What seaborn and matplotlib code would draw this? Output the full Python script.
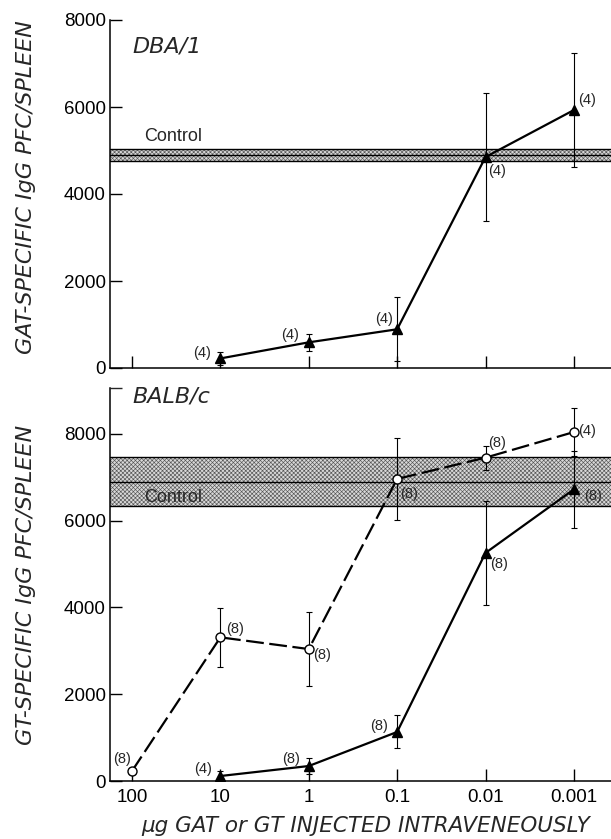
import pandas as pd
import seaborn as sns
import matplotlib.pyplot as plt

# x axis: antigen dose (ug), shown largest to smallest
doses = [100, 10, 1, 0.1, 0.01, 0.001]
dose_labels = ['100', '10', '1', '0.1', '0.01', '0.001']

# DBA/1 mice, GAT injected (filled triangles)
dba_dose = [10, 1, 0.1, 0.01, 0.001]
dba_pfc = [220, 590, 890, 4850, 5930]
dba_err = [140, 190, 740, 1480, 1300]
dba_n = ['(4)', '(4)', '(4)', '(4)', '(4)']
dba_control = 4900
dba_control_se = 135

# BALB/c mice, GAT injected (filled triangles)
balb_gat_dose = [10, 1, 0.1, 0.01, 0.001]
balb_gat_pfc = [115, 345, 1130, 5255, 6720]
balb_gat_err = [110, 190, 380, 1200, 880]
balb_gat_n = ['(4)', '(8)', '(8)', '(8)', '(8)']

# BALB/c mice, GT injected (open circles)
balb_gt_dose = [100, 10, 1, 0.1, 0.01, 0.001]
balb_gt_pfc = [230, 3310, 3040, 6960, 7450, 8040]
balb_gt_err = [80, 680, 850, 950, 280, 550]
balb_gt_n = ['(8)', '(8)', '(8)', '(8)', '(8)', '(4)']
balb_control = 6895
balb_control_se = 565

# label offsets in pixels (dx, dy) from each point
dba_off = [(-18, 5), (-19, 7), (-13, 10), (12, -14), (13, 10)]
gat_off = [(-17, 7), (-18, 7), (-18, 6), (14, -11), (19, -7)]
gt_off = [(-10, 12), (15, 8), (13, -6), (12, -15), (12, 15), (13, 1)]

sns.set_theme(style='ticks')
plt.rcParams['font.family'] = ['Liberation Sans', 'DejaVu Sans']
plt.rcParams['hatch.linewidth'] = 0.45
lettering = ['DejaVu Sans']

fig = plt.figure(figsize=(6.11, 8.39), dpi=100)
ax1 = fig.add_axes([110 / 611, 471 / 839, 501 / 611, 348 / 839])
ax2 = fig.add_axes([110 / 611, 58 / 839, 501 / 611, 393 / 839])


def control_band(ax, mean, se):
    ax.axhspan(mean - se, mean + se, facecolor='#d8d8d8', edgecolor='#555555',
               hatch='xxxxxxxx', linewidth=0, zorder=1)
    for yv in (mean - se, mean, mean + se):
        ax.axhline(yv, color='black', lw=1.0, zorder=1.5)


def series(ax, x, y, err, marker, dashed, labels, offsets):
    df = pd.DataFrame({'dose': x, 'pfc': y})
    ax.errorbar(x, y, yerr=err, fmt='none', ecolor='black', elinewidth=0.8,
                capsize=2.5, capthick=0.8, zorder=2)
    sns.lineplot(data=df, x='dose', y='pfc', ax=ax, color='black', lw=1.6,
                 marker=marker, markersize=6.5,
                 markerfacecolor='white' if marker == 'o' else 'black',
                 markeredgecolor='black', markeredgewidth=1.0,
                 dashes=(8, 2.5) if dashed else '', zorder=3)
    for xi, yi, lab, (dx, dy) in zip(x, y, labels, offsets):
        ax.annotate(lab, (xi, yi), xytext=(dx, dy), textcoords='offset pixels',
                    ha='center', va='center', fontsize=10.5)


control_band(ax1, dba_control, dba_control_se)
series(ax1, dba_dose, dba_pfc, dba_err, '^', False, dba_n, dba_off)

control_band(ax2, balb_control, balb_control_se)
series(ax2, balb_gt_dose, balb_gt_pfc, balb_gt_err, 'o', True, balb_gt_n, gt_off)
series(ax2, balb_gat_dose, balb_gat_pfc, balb_gat_err, '^', False, balb_gat_n, gat_off)

for ax in (ax1, ax2):
    ax.set_xscale('log')
    ax.set_xlim(10 ** 2.249, 10 ** -3.42)
    ax.set_xticks(doses)
    ax.minorticks_off()
    ax.set_yticks([0, 2000, 4000, 6000, 8000])
    ax.tick_params(direction='in', length=8.5, width=1.0, labelsize=13.5,
                   color='black', labelcolor='black')
    ax.tick_params(axis='y', pad=3)
    ax.tick_params(axis='x', pad=6)
    for s in ('top', 'right'):
        ax.spines[s].set_visible(False)
    for s in ('left', 'bottom'):
        ax.spines[s].set_linewidth(1.1)
        ax.spines[s].set_color('black')
    ax.set_xlabel('')

ax1.set_ylim(0, 8000)
ax1.set_xticklabels([])
ax1.set_yticklabels(['0', '2000', '4000', '6000', '8000'])
ax1.set_ylabel('GAT-SPECIFIC IgG PFC/SPLEEN', fontsize=16, style='italic',
               family=lettering)
ax1.yaxis.set_label_coords(-0.148, 0.52)
ax1.text(10 ** 2, 7400, 'DBA/1', fontsize=16, style='italic', va='center',
         family=lettering)
ax1.text(10 ** 1.86, 5320, 'Control', fontsize=13, va='center')

ax2.set_ylim(0, 9055)
ax2.set_yticks([9055], minor=True)
ax2.tick_params(axis='y', which='minor', direction='in', length=8.5, width=1.0)
ax2.set_xticklabels(dose_labels)
ax2.set_yticklabels(['0', '2000', '4000', '6000', '8000'])
ax2.set_ylabel('GT-SPECIFIC IgG PFC/SPLEEN', fontsize=16, style='italic',
               family=lettering)
ax2.yaxis.set_label_coords(-0.148, 0.5)
ax2.set_xlabel('\u03bcg GAT or GT INJECTED INTRAVENEOUSLY', fontsize=15.5,
               style='italic', family=lettering)
ax2.xaxis.set_label_coords(0.51, -0.088)
ax2.text(10 ** 2, 8850, 'BALB/c', fontsize=16, style='italic', va='center',
         family=lettering)
ax2.text(10 ** 1.86, 6540, 'Control', fontsize=13, va='center')

fig.savefig('out.png', dpi=100)
